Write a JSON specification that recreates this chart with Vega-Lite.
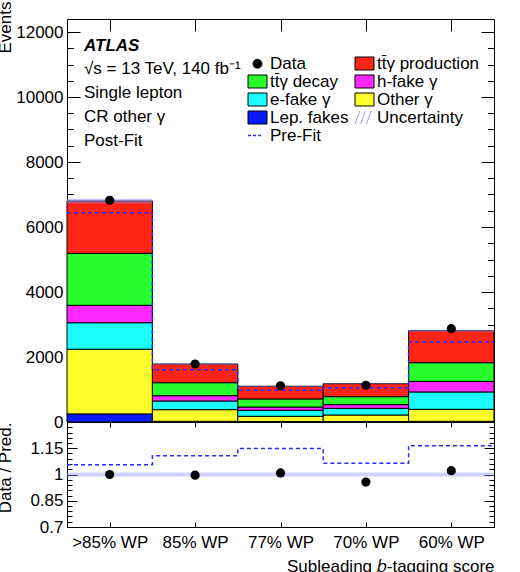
{
  "$schema": "https://vega.github.io/schema/vega-lite/v6.json",
  "padding": {"left": -5, "top": 0, "right": 0, "bottom": 0},
  "bounds": "flush",
  "spacing": 0,
  "config": {
    "font": "Liberation Sans",
    "view": {"stroke": "black", "strokeWidth": 1},
    "axis": {"grid": false, "domain": false, "tickColor": "black", "tickWidth": 1, "labelColor": "black", "labelFont": "Liberation Sans", "labelFontSize": 17, "titleFont": "Liberation Sans", "titleFontSize": 17, "titleFontWeight": "normal", "titleColor": "black", "labelFlush": false, "labelOverlap": false}
  },
  "datasets": {
    "stack": [
      {"bin": ">85% WP", "lo": 0, "hi": 1, "comp": "Lep. fakes", "value": 250},
      {"bin": ">85% WP", "lo": 0, "hi": 1, "comp": "Other γ", "value": 1990},
      {"bin": ">85% WP", "lo": 0, "hi": 1, "comp": "e-fake γ", "value": 815},
      {"bin": ">85% WP", "lo": 0, "hi": 1, "comp": "h-fake γ", "value": 535},
      {"bin": ">85% WP", "lo": 0, "hi": 1, "comp": "tt̄γ decay", "value": 1600},
      {"bin": ">85% WP", "lo": 0, "hi": 1, "comp": "tt̄γ production", "value": 1610},
      {"bin": "85% WP", "lo": 1, "hi": 2, "comp": "Lep. fakes", "value": 20},
      {"bin": "85% WP", "lo": 1, "hi": 2, "comp": "Other γ", "value": 360},
      {"bin": "85% WP", "lo": 1, "hi": 2, "comp": "e-fake γ", "value": 265},
      {"bin": "85% WP", "lo": 1, "hi": 2, "comp": "h-fake γ", "value": 165},
      {"bin": "85% WP", "lo": 1, "hi": 2, "comp": "tt̄γ decay", "value": 400},
      {"bin": "85% WP", "lo": 1, "hi": 2, "comp": "tt̄γ production", "value": 575},
      {"bin": "77% WP", "lo": 2, "hi": 3, "comp": "Lep. fakes", "value": 15},
      {"bin": "77% WP", "lo": 2, "hi": 3, "comp": "Other γ", "value": 160},
      {"bin": "77% WP", "lo": 2, "hi": 3, "comp": "e-fake γ", "value": 185},
      {"bin": "77% WP", "lo": 2, "hi": 3, "comp": "h-fake γ", "value": 100},
      {"bin": "77% WP", "lo": 2, "hi": 3, "comp": "tt̄γ decay", "value": 250},
      {"bin": "77% WP", "lo": 2, "hi": 3, "comp": "tt̄γ production", "value": 390},
      {"bin": "70% WP", "lo": 3, "hi": 4, "comp": "Lep. fakes", "value": 15},
      {"bin": "70% WP", "lo": 3, "hi": 4, "comp": "Other γ", "value": 200},
      {"bin": "70% WP", "lo": 3, "hi": 4, "comp": "e-fake γ", "value": 205},
      {"bin": "70% WP", "lo": 3, "hi": 4, "comp": "h-fake γ", "value": 115},
      {"bin": "70% WP", "lo": 3, "hi": 4, "comp": "tt̄γ decay", "value": 245},
      {"bin": "70% WP", "lo": 3, "hi": 4, "comp": "tt̄γ production", "value": 400},
      {"bin": "60% WP", "lo": 4, "hi": 5, "comp": "Lep. fakes", "value": 20},
      {"bin": "60% WP", "lo": 4, "hi": 5, "comp": "Other γ", "value": 370},
      {"bin": "60% WP", "lo": 4, "hi": 5, "comp": "e-fake γ", "value": 535},
      {"bin": "60% WP", "lo": 4, "hi": 5, "comp": "h-fake γ", "value": 325},
      {"bin": "60% WP", "lo": 4, "hi": 5, "comp": "tt̄γ decay", "value": 575},
      {"bin": "60% WP", "lo": 4, "hi": 5, "comp": "tt̄γ production", "value": 985}
    ],
    "bins": [
      {"bin": ">85% WP", "lo": 0, "hi": 1, "mid": 0.5, "data": 6820, "uLo": 6730, "uHi": 6870, "ratio": 1.0, "rLo": 0.989, "rHi": 1.011},
      {"bin": "85% WP", "lo": 1, "hi": 2, "mid": 1.5, "data": 1785, "uLo": 1765, "uHi": 1805, "ratio": 0.996, "rLo": 0.989, "rHi": 1.011},
      {"bin": "77% WP", "lo": 2, "hi": 3, "mid": 2.5, "data": 1115, "uLo": 1088, "uHi": 1112, "ratio": 1.009, "rLo": 0.989, "rHi": 1.011},
      {"bin": "70% WP", "lo": 3, "hi": 4, "mid": 3.5, "data": 1130, "uLo": 1168, "uHi": 1192, "ratio": 0.957, "rLo": 0.989, "rHi": 1.011},
      {"bin": "60% WP", "lo": 4, "hi": 5, "mid": 4.5, "data": 2870, "uLo": 2780, "uHi": 2840, "ratio": 1.022, "rLo": 0.989, "rHi": 1.011}
    ],
    "prefit": [
      {"edge": 0, "pre": 6440, "preRatio": 1.056},
      {"edge": 1, "pre": 1610, "preRatio": 1.107},
      {"edge": 2, "pre": 975, "preRatio": 1.148},
      {"edge": 3, "pre": 1055, "preRatio": 1.065},
      {"edge": 4, "pre": 2460, "preRatio": 1.165},
      {"edge": 5, "pre": 2460, "preRatio": 1.165}
    ]
  },
  "vconcat": [
    {
      "width": 427,
      "height": 403,
      "title": {
        "text": "ATLAS",
        "subtitle": ["√s = 13 TeV, 140 fb⁻¹", "Single lepton", "CR other γ", "Post-Fit"],
        "anchor": "start", "frame": "group", "orient": "top",
        "dx": 17, "dy": 149, "offset": 0,
        "font": "Liberation Sans", "fontSize": 17, "fontWeight": "bold", "fontStyle": "italic", "color": "black",
        "subtitleFont": "Liberation Sans", "subtitleFontSize": 17, "subtitleColor": "black", "subtitleLineHeight": 24, "subtitlePadding": 6
      },
      "layer": [
        {
          "data": {"name": "stack"},
          "transform": [{"stack": "value", "groupby": ["lo"], "as": ["v0", "v1"]}],
          "mark": {"type": "rect", "stroke": "black", "strokeWidth": 1},
          "encoding": {
            "x": {"field": "lo", "type": "quantitative", "scale": {"domain": [0, 5], "nice": false, "zero": false},
                  "axis": {"orient": "bottom", "values": [0.5, 1.5, 2.5, 3.5, 4.5], "labels": false, "tickSize": -12, "title": null}},
            "x2": {"field": "hi"},
            "y": {"field": "v0", "type": "quantitative", "scale": {"domain": [0, 12400], "nice": false, "zero": false},
                  "axis": {"orient": "left", "values": [0, 2000, 4000, 6000, 8000, 10000, 12000], "format": "d", "tickSize": -13, "labelPadding": 17,
                           "title": "Events", "titleAngle": 270, "titleAlign": "right", "titleBaseline": "alphabetic", "titleX": -57, "titleY": -18}},
            "y2": {"field": "v1"},
            "color": {
              "field": "comp", "type": "nominal",
              "scale": {
                "domain": ["Data", "tt̄γ production", "tt̄γ decay", "h-fake γ", "e-fake γ", "Other γ", "Lep. fakes", "Uncertainty", "Pre-Fit"],
                "range": ["black", "#ff2516", "#28fc2c", "#fd28fd", "#1cfcfc", "#fdfd2c", "#0a1afc", "#8c8cff", "#2a2aff"]
              },
              "legend": {
                "orient": "none", "legendX": 182, "legendY": 36, "direction": "horizontal",
                "columns": 2, "columnPadding": 4, "rowPadding": 0, "title": null,
                "symbolSize": 361, "symbolStrokeWidth": 1, "symbolStrokeColor": "black",
                "labelFont": "Liberation Sans", "labelFontSize": 17, "labelColor": "black", "labelOffset": 4, "labelLimit": 250,
                "encode": {
                  "symbols": {
                    "update": {
                      "shape": {"signal": "datum.value === 'Data' ? 'circle' : datum.value === 'Pre-Fit' ? 'M-1,0H0.5' : datum.value === 'Uncertainty' ? 'M-1,0.684L-0.5,-0.684M-0.4,0.684L0.1,-0.684M0.2,0.684L0.7,-0.684' : 'M-1,-0.684H1V0.684H-1Z'"},
                      "size": {"signal": "datum.value === 'Data' ? 80 : 361"},
                      "fillOpacity": {"signal": "datum.value === 'Pre-Fit' || datum.value === 'Uncertainty' ? 0 : 1"},
                      "stroke": {"signal": "datum.value === 'Pre-Fit' ? '#2a2aff' : datum.value === 'Uncertainty' ? '#8c8cff' : 'black'"},
                      "strokeDash": {"signal": "datum.value === 'Pre-Fit' ? [3, 2] : [1, 0]"},
                      "strokeWidth": {"signal": "datum.value === 'Pre-Fit' ? 1.5 : 1"}
                    }
                  }
                }
              }
            }
          }
        },
        {
          "data": {"name": "bins"},
          "mark": {"type": "rect", "fill": "#8c8cff", "fillOpacity": 0.5},
          "encoding": {
            "x": {"field": "lo", "type": "quantitative", "scale": {"domain": [0, 5], "nice": false, "zero": false}, "axis": null},
            "x2": {"field": "hi"},
            "y": {"field": "uLo", "type": "quantitative", "scale": {"domain": [0, 12400], "nice": false, "zero": false},
                  "axis": {"orient": "left", "values": [500, 1000, 1500, 2500, 3000, 3500, 4500, 5000, 5500, 6500, 7000, 7500, 8500, 9000, 9500, 10500, 11000, 11500], "labels": false, "tickSize": -6.5, "title": null}},
            "y2": {"field": "uHi"}
          }
        },
        {
          "data": {"name": "prefit"},
          "mark": {"type": "line", "interpolate": "step-after", "color": "#2a2aff", "strokeWidth": 1.5, "strokeDash": [4, 3]},
          "encoding": {
            "x": {"field": "edge", "type": "quantitative", "scale": {"domain": [0, 5], "nice": false, "zero": false},
                  "axis": {"orient": "top", "values": [0.5, 1.5, 2.5, 3.5, 4.5], "labels": false, "tickSize": -12, "title": null}},
            "y": {"field": "pre", "type": "quantitative", "scale": {"domain": [0, 12400], "nice": false, "zero": false},
                  "axis": {"orient": "right", "values": [0, 2000, 4000, 6000, 8000, 10000, 12000], "labels": false, "tickSize": -13, "title": null}}
          }
        },
        {
          "data": {"name": "bins"},
          "mark": {"type": "circle", "size": 85, "color": "black", "opacity": 1},
          "encoding": {
            "x": {"field": "mid", "type": "quantitative", "scale": {"domain": [0, 5], "nice": false, "zero": false}, "axis": null},
            "y": {"field": "data", "type": "quantitative", "scale": {"domain": [0, 12400], "nice": false, "zero": false},
                  "axis": {"orient": "right", "values": [500, 1000, 1500, 2500, 3000, 3500, 4500, 5000, 5500, 6500, 7000, 7500, 8500, 9000, 9500, 10500, 11000, 11500], "labels": false, "tickSize": -6.5, "title": null}}
          }
        }
      ],
      "resolve": {"axis": {"x": "independent", "y": "independent"}}
    },
    {
      "width": 427,
      "height": 105,
      "layer": [
        {
          "data": {"name": "bins"},
          "mark": {"type": "rect", "fill": "#8c8cff", "fillOpacity": 0.4},
          "encoding": {
            "x": {"field": "lo", "type": "quantitative", "scale": {"domain": [0, 5], "nice": false, "zero": false},
                  "axis": {"orient": "bottom", "values": [0.5, 1.5, 2.5, 3.5, 4.5], "tickSize": -5, "labelPadding": 12,
                           "labelExpr": "['>85% WP', '85% WP', '77% WP', '70% WP', '60% WP'][floor(datum.value)]",
                           "title": "Subleading 𝑏-tagging score", "titleAnchor": "end", "titlePadding": 8}},
            "x2": {"field": "hi"},
            "y": {"field": "rLo", "type": "quantitative", "scale": {"domain": [0.7, 1.3], "nice": false, "zero": false},
                  "axis": {"orient": "left", "values": [0.7, 0.85, 1, 1.15], "labelExpr": "'' + datum.value", "tickSize": -10, "labelPadding": 14,
                           "title": "Data / Pred.", "titleAngle": 270, "titleAlign": "right", "titleBaseline": "alphabetic", "titleX": -57, "titleY": 0}},
            "y2": {"field": "rHi"}
          }
        },
        {
          "mark": {"type": "rule", "color": "black", "strokeWidth": 1, "strokeDash": [5, 2]},
          "encoding": {
            "y": {"datum": 1, "type": "quantitative", "scale": {"domain": [0.7, 1.3], "nice": false, "zero": false},
                  "axis": {"orient": "left", "values": [0.73, 0.76, 0.79, 0.82, 0.88, 0.91, 0.94, 0.97, 1.03, 1.06, 1.09, 1.12, 1.18, 1.21, 1.24, 1.27], "labels": false, "tickSize": -5, "title": null}}
          }
        },
        {
          "data": {"name": "prefit"},
          "mark": {"type": "line", "interpolate": "step-after", "color": "#2a2aff", "strokeWidth": 1.5, "strokeDash": [4, 3]},
          "encoding": {
            "x": {"field": "edge", "type": "quantitative", "scale": {"domain": [0, 5], "nice": false, "zero": false},
                  "axis": {"orient": "top", "values": [0.5, 1.5, 2.5, 3.5, 4.5], "labels": false, "tickSize": -5, "title": null}},
            "y": {"field": "preRatio", "type": "quantitative", "scale": {"domain": [0.7, 1.3], "nice": false, "zero": false},
                  "axis": {"orient": "right", "values": [0.7, 0.85, 1, 1.15, 1.3], "labels": false, "tickSize": -10, "title": null}}
          }
        },
        {
          "data": {"name": "bins"},
          "mark": {"type": "circle", "size": 85, "color": "black", "opacity": 1},
          "encoding": {
            "x": {"field": "mid", "type": "quantitative", "scale": {"domain": [0, 5], "nice": false, "zero": false}, "axis": null},
            "y": {"field": "ratio", "type": "quantitative", "scale": {"domain": [0.7, 1.3], "nice": false, "zero": false},
                  "axis": {"orient": "right", "values": [0.73, 0.76, 0.79, 0.82, 0.88, 0.91, 0.94, 0.97, 1.03, 1.06, 1.09, 1.12, 1.18, 1.21, 1.24, 1.27], "labels": false, "tickSize": -5, "title": null}}
          }
        }
      ],
      "resolve": {"axis": {"x": "independent", "y": "independent"}}
    }
  ]
}
